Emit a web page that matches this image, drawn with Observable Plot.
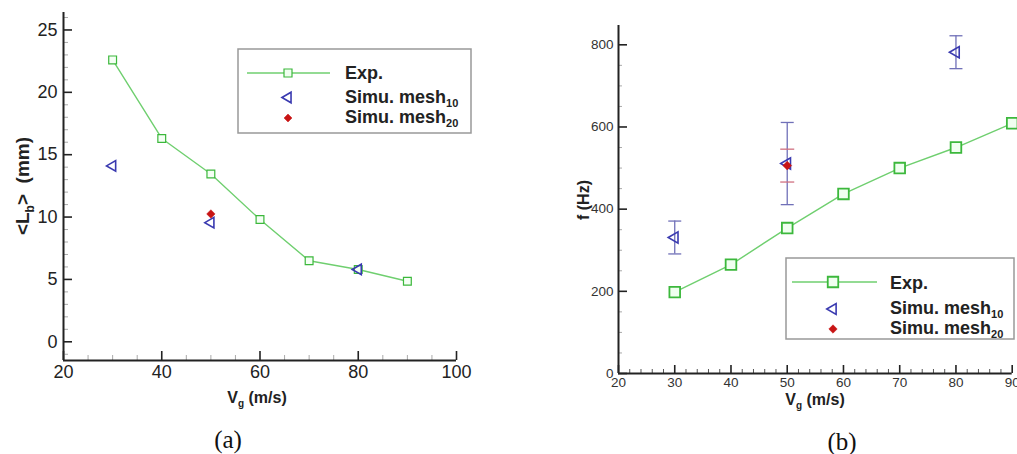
<!DOCTYPE html>
<html>
<head>
<meta charset="utf-8">
<script src="https://cdn.jsdelivr.net/npm/d3@7"></script>
<script src="https://cdn.jsdelivr.net/npm/@observablehq/plot@0.6"></script>
<style>
  html, body { margin: 0; padding: 0; background: #fff; }
  #root { position: relative; width: 1017px; height: 454px; overflow: hidden; background: #fff; }
  #pa { position: absolute; left: 0; top: 0; }
  #pb { position: absolute; left: 520px; top: 0; }
  #overlay { position: absolute; left: 0; top: 0; pointer-events: none; }
</style>
</head>
<body>
<div id="root">
  <div id="pa"></div>
  <div id="pb"></div>
</div>
<script>
// ---------- Data: panel (a) ----------
const vgExpA = [30, 40, 50, 60, 70, 80, 90];
const lbExp = [22.6, 16.3, 13.45, 9.8, 6.5, 5.8, 4.85];
const vgMesh10A = [30, 50, 80];
const lbMesh10 = [14.1, 9.55, 5.8];
const vgMesh20A = [50];
const lbMesh20 = [10.25];
const xTicksA = [20, 40, 60, 80, 100];
const yTicksA = [0, 5, 10, 15, 20, 25];

// ---------- Data: panel (b) ----------
const vgExpB = [30, 40, 50, 60, 70, 80, 90];
const fExp = [198, 265, 354, 437, 500, 550, 609];
const vgMesh10B = [30, 50, 80];
const fMesh10 = [331, 511, 782];
const fMesh10Lo = [291, 411, 742];
const fMesh10Hi = [371, 611, 822];
const vgMesh20B = [50];
const fMesh20 = [506];
const fMesh20Lo = [466];
const fMesh20Hi = [546];
const xTicksB = [20, 30, 40, 50, 60, 70, 80, 90];
const yTicksB = [0, 200, 400, 600, 800];

// ---------- Styling ----------
const GREEN_LINE = "#6fcf6f";
const GREEN_MARK = "#3cb83c";
const BLUE = "#3a3ab0";
const ERR_BLUE = "#7070b8";
const RED = "#c81414";
const ERR_RED = "#d07080";
const AXIS = "#222";
const FONT = "'Liberation Sans', Arial, Helvetica, sans-serif";

const capSymbol = {
  draw(ctx, size) {
    const w = Math.sqrt(size / Math.PI);
    ctx.moveTo(-w, 0); ctx.lineTo(w, 0);
  }
};

// ---------- Panel (a) ----------
{
  const W = 490, H = 420, mL = 63, mR = 34, mT = 12, mB = 60;
  const innerW = W - mL - mR, innerH = H - mT - mB;
  const yDom = [-1.5, 26.4], xDom = [20, 100];
  const minorX = d3.range(25, 100, 5).filter(v => v % 20 !== 0);
  const minorY = d3.range(-1, 27, 1).filter(v => v % 5 !== 0);
  const exp = vgExpA.map((x, i) => ({x, y: lbExp[i]}));
  const m10 = vgMesh10A.map((x, i) => ({x, y: lbMesh10[i]}));
  const m20 = vgMesh20A.map((x, i) => ({x, y: lbMesh20[i]}));
  const chart = Plot.plot({
    width: W, height: H, marginLeft: mL, marginRight: mR, marginTop: mT, marginBottom: mB,
    x: {domain: xDom}, y: {domain: yDom},
    style: {fontFamily: FONT, fontSize: "18px", color: AXIS, background: "transparent", overflow: "visible"},
    marks: [
      Plot.tickX(minorX, {x: d => d, insetTop: innerH - 5, stroke: "#aaa", strokeWidth: 1}),
      Plot.tickX(xTicksA, {x: d => d, insetTop: innerH - 9, stroke: AXIS, strokeWidth: 1.6}),
      Plot.tickY(minorY, {y: d => d, insetRight: innerW - 5, stroke: "#aaa", strokeWidth: 1}),
      Plot.tickY(yTicksA, {y: d => d, insetRight: innerW - 9, stroke: AXIS, strokeWidth: 1.6}),
      Plot.ruleY([yDom[0]], {stroke: AXIS, strokeWidth: 2}),
      Plot.ruleX([xDom[0]], {stroke: AXIS, strokeWidth: 2}),
      Plot.axisX(xTicksA, {tickSize: 0, tickPadding: 5, label: null, fill: AXIS}),
      Plot.axisY(yTicksA, {tickSize: 0, tickPadding: 6, label: null, fill: AXIS}),
      Plot.line(exp, {x: "x", y: "y", stroke: GREEN_LINE, strokeWidth: 1.4}),
      Plot.dot(exp, {x: "x", y: "y", symbol: "square", r: 4.4, stroke: GREEN_MARK, fill: "#f4fff4", strokeWidth: 1.2}),
      Plot.dot(m10, {x: "x", y: "y", symbol: "triangle", rotate: -90, r: 3.9, stroke: BLUE, fill: "none", strokeWidth: 1.6}),
      Plot.dot(m20, {x: "x", y: "y", symbol: "diamond2", r: 3.8, fill: RED, stroke: RED, strokeWidth: 0.5})
    ]
  });
  document.getElementById("pa").appendChild(chart);
}

// ---------- Panel (b) ----------
{
  const W = 497, H = 420, mL = 98, mR = 5.3, mT = 25, mB = 47;
  const innerW = W - mL - mR, innerH = H - mT - mB;
  const yDom = [0, 847], xDom = [20, 90];
  const minorX = d3.range(22, 90, 2).filter(v => v % 10 !== 0);
  const minorY = d3.range(50, 847, 50).filter(v => v % 200 !== 0);
  const exp = vgExpB.map((x, i) => ({x, y: fExp[i]}));
  const m10 = vgMesh10B.map((x, i) => ({x, y: fMesh10[i], lo: fMesh10Lo[i], hi: fMesh10Hi[i]}));
  const m20 = vgMesh20B.map((x, i) => ({x, y: fMesh20[i], lo: fMesh20Lo[i], hi: fMesh20Hi[i]}));
  const chart = Plot.plot({
    width: W, height: H, marginLeft: mL, marginRight: mR, marginTop: mT, marginBottom: mB,
    x: {domain: xDom}, y: {domain: yDom},
    style: {fontFamily: FONT, fontSize: "13.5px", color: "#333", background: "transparent", overflow: "visible"},
    marks: [
      Plot.tickX(minorX, {x: d => d, insetTop: innerH - 4, stroke: "#555", strokeWidth: 1}),
      Plot.tickX(xTicksB, {x: d => d, insetTop: innerH - 8, stroke: AXIS, strokeWidth: 1.6}),
      Plot.tickY(minorY, {y: d => d, insetRight: innerW - 4, stroke: "#aaa", strokeWidth: 1}),
      Plot.tickY(yTicksB, {y: d => d, insetRight: innerW - 9, stroke: AXIS, strokeWidth: 1.6}),
      Plot.ruleY([yDom[0]], {stroke: AXIS, strokeWidth: 2}),
      Plot.ruleX([xDom[0]], {stroke: AXIS, strokeWidth: 2}),
      Plot.axisX(xTicksB, {tickSize: 0, tickPadding: 4, label: null, fill: "#333"}),
      Plot.axisY(yTicksB, {tickSize: 0, tickPadding: 5, label: null, fill: "#333"}),
      // error bars
      Plot.ruleX(m10, {x: "x", y1: "lo", y2: "hi", stroke: ERR_BLUE, strokeWidth: 1.3}),
      Plot.dot(m10, {x: "x", y: "lo", symbol: capSymbol, r: 6.5, stroke: ERR_BLUE, strokeWidth: 1.3}),
      Plot.dot(m10, {x: "x", y: "hi", symbol: capSymbol, r: 6.5, stroke: ERR_BLUE, strokeWidth: 1.3}),
      Plot.dot(m20, {x: "x", y: "lo", symbol: capSymbol, r: 7, stroke: ERR_RED, strokeWidth: 1.3}),
      Plot.dot(m20, {x: "x", y: "hi", symbol: capSymbol, r: 7, stroke: ERR_RED, strokeWidth: 1.3}),
      Plot.line(exp, {x: "x", y: "y", stroke: GREEN_LINE, strokeWidth: 1.4}),
      Plot.dot(exp, {x: "x", y: "y", symbol: "square", r: 6, stroke: GREEN_MARK, fill: "#f0fff0", strokeWidth: 1.8}),
      Plot.dot(m10, {x: "x", y: "y", symbol: "triangle", rotate: -90, r: 4.2, stroke: BLUE, fill: "none", strokeWidth: 1.6}),
      Plot.dot(m20, {x: "x", y: "y", symbol: "diamond2", r: 4, fill: RED, stroke: RED, strokeWidth: 0.5})
    ]
  });
  document.getElementById("pb").appendChild(chart);
}

// ---------- Overlay: axis titles, legends, captions ----------
const svg = d3.select("#root").append("svg")
  .attr("id", "overlay").attr("width", 1017).attr("height", 454)
  .attr("font-family", FONT);

function richText(g, parts, attrs) {
  const t = g.append("text");
  Object.entries(attrs).forEach(([k, v]) => t.attr(k, v));
  t.attr("xml:space", "preserve");
  let shifted = 0;
  parts.forEach(([s, sub]) => {
    const ts = t.append("tspan").text(s);
    if (sub) {
      ts.attr("font-size", sub.size).attr("dy", sub.dy - shifted);
      shifted = sub.dy;
    } else if (shifted) {
      ts.attr("dy", -shifted);
      shifted = 0;
    }
  });
  return t;
}

// Panel (a) titles
richText(svg, [["V"], ["g", {size: 10, dy: 4}], [" (m/s)"]],
  {x: 257, y: 403, "text-anchor": "middle", "font-size": 16, "font-weight": "bold", fill: AXIS});
richText(svg, [["<L"], ["b", {size: 12, dy: 5}], [">  (mm)"]],
  {transform: "translate(29,186) rotate(-90)", "text-anchor": "middle", "font-size": 19, "font-weight": "bold", fill: AXIS});

// Panel (b) titles
richText(svg, [["V"], ["g", {size: 10, dy: 4}], [" (m/s)"]],
  {x: 815, y: 405, "text-anchor": "middle", "font-size": 16, "font-weight": "bold", fill: AXIS});
richText(svg, [["f (Hz)"]],
  {transform: "translate(589,200) rotate(-90)", "text-anchor": "middle", "font-size": 16, "font-weight": "bold", fill: AXIS});

// Legends
const legendLabels = ["Exp.", "Simu. mesh", "Simu. mesh"];
const legendSubs = [null, "10", "20"];
function drawLegend(cfg) {
  const g = svg.append("g");
  g.append("rect").attr("x", cfg.x).attr("y", cfg.y).attr("width", cfg.w).attr("height", cfg.h)
    .attr("fill", "#fff").attr("stroke", "#999").attr("stroke-width", 1.5);
  g.append("line").attr("x1", cfg.lx1).attr("x2", cfg.lx2).attr("y1", cfg.rows[0]).attr("y2", cfg.rows[0])
    .attr("stroke", GREEN_LINE).attr("stroke-width", 1.4);
  const sq = d3.symbol(d3.symbolSquare, cfg.sq * cfg.sq)();
  g.append("path").attr("d", sq).attr("transform", `translate(${cfg.sx},${cfg.rows[0]})`)
    .attr("fill", "#f0fff0").attr("stroke", GREEN_MARK).attr("stroke-width", cfg.sqW);
  const tri = d3.symbol(d3.symbolTriangle, Math.PI * cfg.tr * cfg.tr)();
  g.append("path").attr("d", tri).attr("transform", `translate(${cfg.sx},${cfg.rows[1]}) rotate(-90)`)
    .attr("fill", "none").attr("stroke", BLUE).attr("stroke-width", 1.6);
  const dia = d3.symbol(d3.symbolDiamond2, Math.PI * cfg.dr * cfg.dr)();
  g.append("path").attr("d", dia).attr("transform", `translate(${cfg.sx},${cfg.rows[2]})`)
    .attr("fill", RED).attr("stroke", RED).attr("stroke-width", 0.5);
  legendLabels.forEach((lab, i) => {
    const parts = [[lab]];
    if (legendSubs[i]) parts.push([legendSubs[i], {size: 11, dy: 4}]);
    richText(g, parts, {x: cfg.tx, y: cfg.base[i], "font-size": 18, "font-weight": "bold", fill: AXIS});
  });
}
drawLegend({x: 238, y: 49, w: 233, h: 84, lx1: 247, lx2: 330, sx: 288, sq: 8, sqW: 1.2, tr: 3.9, dr: 3.6,
  rows: [73, 97.5, 118], tx: 345, base: [79, 103, 123]});
drawLegend({x: 786, y: 258, w: 228, h: 81, lx1: 792, lx2: 877, sx: 833, sq: 10.5, sqW: 1.8, tr: 4, dr: 3.8,
  rows: [282, 309, 329], tx: 890, base: [289, 314, 334]});

// Captions
svg.append("text").attr("x", 228).attr("y", 448).attr("text-anchor", "middle")
  .attr("font-family", "'Liberation Serif', 'Times New Roman', serif").attr("font-size", 25).attr("fill", "#111").text("(a)");
svg.append("text").attr("x", 842).attr("y", 450).attr("text-anchor", "middle")
  .attr("font-family", "'Liberation Serif', 'Times New Roman', serif").attr("font-size", 25).attr("fill", "#111").text("(b)");
</script>
</body>
</html>
